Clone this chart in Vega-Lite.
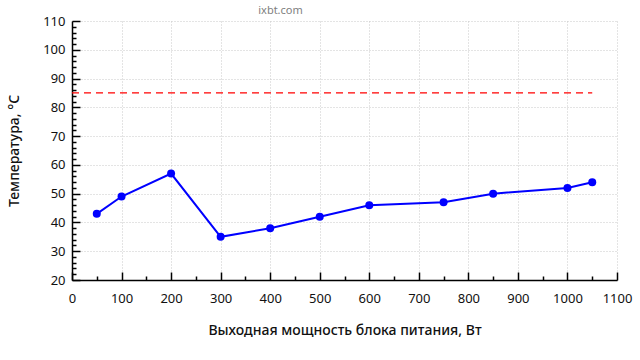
{
  "$schema": "https://vega.github.io/schema/vega-lite/v6.json",
  "width": 545,
  "height": 259,
  "autosize": {"type": "none"},
  "padding": {"left": 72, "top": 21, "right": 23, "bottom": 80},
  "background": "white",
  "config": {"view": {"stroke": null}, "font": "Noto Sans"},
  "title": {"text": "ixbt.com", "fontSize": 11, "fontWeight": "normal", "color": "#808080", "anchor": "middle", "baseline": "alphabetic", "dx": -64, "offset": -10, "font": "Noto Sans"},
  "resolve": {"axis": {"x": "independent", "y": "independent"}},
  "datasets": {
    "temps": [
      {"power": 50, "temp": 43},
      {"power": 100, "temp": 49},
      {"power": 200, "temp": 57},
      {"power": 300, "temp": 35},
      {"power": 400, "temp": 38},
      {"power": 500, "temp": 42},
      {"power": 600, "temp": 46},
      {"power": 750, "temp": 47},
      {"power": 850, "temp": 50},
      {"power": 1000, "temp": 52},
      {"power": 1050, "temp": 54}
    ],
    "limit": [{"start": 0, "end": 1050, "temp": 85}]
  },
  "layer": [
    {
      "data": {"name": "temps"},
      "mark": {"type": "line", "color": "#0000ff", "strokeWidth": 2},
      "encoding": {
        "x": {"field": "power", "type": "quantitative",
          "scale": {"domain": [0, 1100], "nice": false, "zero": false},
          "axis": {"orient": "bottom", "title": "Выходная мощность блока питания, Вт", "values": [0,100,200,300,400,500,600,700,800,900,1000,1100], "format": "d",
            "ticks": false, "domain": true, "domainColor": "#000", "domainWidth": 1.5,
            "grid": true, "gridColor": "#c8c8c8", "gridDash": [1, 2], "gridWidth": 1,
            "labelFontSize": 13, "labelColor": "#111", "labelPadding": 12, "labelFlush": false,
            "titleFontSize": 14, "titleFontWeight": 500, "titleColor": "#111", "titleY": 50, "titleBaseline": "middle"}},
        "y": {"field": "temp", "type": "quantitative",
          "scale": {"domain": [20, 110], "nice": false, "zero": false},
          "axis": {"orient": "left", "title": "Температура, °C", "values": [20,30,40,50,60,70,80,90,100,110], "format": "d",
            "ticks": false, "domain": true, "domainColor": "#000", "domainWidth": 1.5,
            "grid": true, "gridColor": "#c8c8c8", "gridDash": [1, 2], "gridWidth": 1,
            "labelFontSize": 13, "labelColor": "#111", "labelPadding": 7,
            "titleFontSize": 14, "titleFontWeight": 500, "titleColor": "#111", "titleX": -58, "titleBaseline": "middle"}}
      }
    },
    {
      "data": {"name": "temps"},
      "mark": {"type": "point", "filled": true, "color": "#0000ff", "size": 64, "opacity": 1},
      "encoding": {
        "x": {"field": "power", "type": "quantitative",
          "axis": {"orient": "bottom", "title": null, "values": [0,100,200,300,400,500,600,700,800,900,1000,1100], "labels": false, "grid": false, "domain": false,
            "ticks": true, "tickSize": -8, "tickColor": "#000", "tickWidth": 1.5}},
        "y": {"field": "temp", "type": "quantitative",
          "axis": {"orient": "left", "title": null, "values": [20,30,40,50,60,70,80,90,100,110], "labels": false, "grid": false, "domain": false,
            "ticks": true, "tickSize": -8, "tickColor": "#000", "tickWidth": 1.5}}
      }
    },
    {
      "data": {"name": "limit"},
      "mark": {"type": "rule", "color": "#ff0000", "strokeWidth": 1.2, "strokeDash": [7, 5]},
      "encoding": {
        "x": {"field": "start", "type": "quantitative",
          "axis": {"orient": "bottom", "title": null, "values": [50,150,250,350,450,550,650,750,850,950,1050], "labels": false, "grid": false, "domain": false,
            "ticks": true, "tickSize": -4, "tickColor": "#000", "tickWidth": 1.5}},
        "x2": {"field": "end"},
        "y": {"field": "temp", "type": "quantitative",
          "axis": {"orient": "left", "title": null, "values": [22,24,26,28,32,34,36,38,42,44,46,48,52,54,56,58,62,64,66,68,72,74,76,78,82,84,86,88,92,94,96,98,102,104,106,108], "labels": false, "grid": false, "domain": false,
            "ticks": true, "tickSize": -4, "tickColor": "#000", "tickWidth": 1.5}}
      }
    }
  ]
}
